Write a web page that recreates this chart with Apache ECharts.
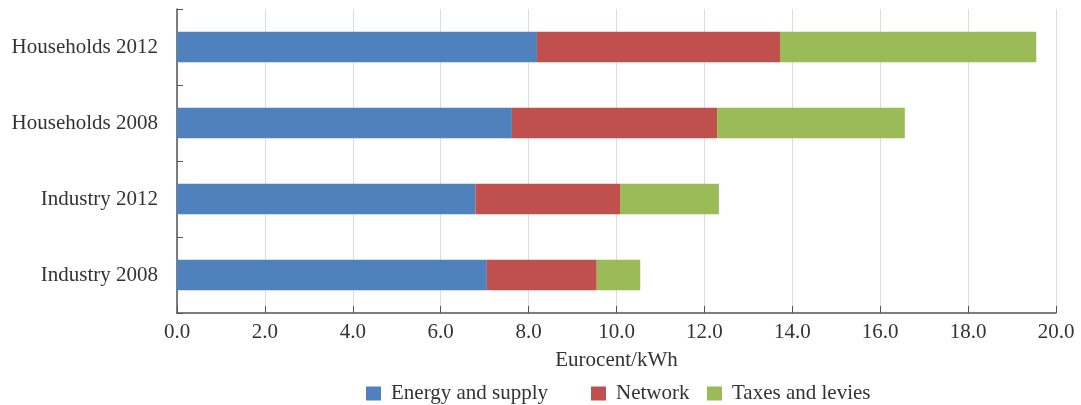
<!DOCTYPE html>
<html>
<head>
<meta charset="utf-8">
<script src="https://cdn.jsdelivr.net/npm/echarts@6/dist/echarts.min.js"></script>
<style>html,body{margin:0;padding:0;background:#fff;}#c{width:1081px;height:405px;}</style>
</head>
<body>
<div id="c"></div>
<script>
const categories = ['Households 2012', 'Households 2008', 'Industry 2012', 'Industry 2008'];
const energySupply = [8.19, 7.62, 6.79, 7.05];
const network = [5.53, 4.67, 3.29, 2.50];
const taxesLevies = [5.83, 4.27, 2.25, 0.99];
const seriesNames = ['Energy and supply', 'Network', 'Taxes and levies'];
const xTitle = 'Eurocent/kWh';

const font = 'Liberation Serif';
const colors = ['#4f81bd', '#c0504d', '#9bbb59'];
const legendLeft = [366, 591, 707];
const chart = echarts.init(document.getElementById('c'), null, {renderer: 'canvas'});
const mk = (name, data, color) => ({
  name, type: 'bar', stack: 'total', data,
  barCategoryGap: '60%',
  itemStyle: {color},
  emphasis: {disabled: true}
});
chart.setOption({
  animation: false,
  textStyle: {fontFamily: font},
  grid: {left: 177, right: 25, top: 9, bottom: 92, containLabel: false},
  legend: seriesNames.map((n, i) => ({
    top: 383, left: legendLeft[i],
    itemWidth: 15, itemHeight: 14, itemGap: 0,
    icon: 'rect', padding: 0,
    textStyle: {fontFamily: font, fontSize: 21, color: '#333', padding: [0, 0, 6, 5]},
    data: [n]
  })),
  xAxis: {
    type: 'value', min: 0, max: 20, interval: 2,
    name: xTitle, nameLocation: 'middle', nameGap: 37,
    nameTextStyle: {fontFamily: font, fontSize: 21, color: '#333'},
    axisLine: {show: true, lineStyle: {color: '#555', width: 1.5}},
    axisTick: {show: true, inside: true, length: 7, lineStyle: {color: '#555'}},
    axisLabel: {formatter: v => v.toFixed(1), fontFamily: font, fontSize: 21, color: '#333', margin: 9},
    splitLine: {show: true, lineStyle: {color: '#dcdcdc', width: 1}}
  },
  yAxis: {
    type: 'category', data: categories, inverse: true,
    axisLine: {show: true, lineStyle: {color: '#555', width: 1.5}},
    axisTick: {show: true, inside: true, length: 6, alignWithLabel: false, lineStyle: {color: '#555'}},
    axisLabel: {fontFamily: font, fontSize: 21, color: '#333', margin: 19},
    splitLine: {show: false}
  },
  series: [
    mk(seriesNames[0], energySupply, colors[0]),
    mk(seriesNames[1], network, colors[1]),
    mk(seriesNames[2], taxesLevies, colors[2])
  ]
});
</script>
</body>
</html>
